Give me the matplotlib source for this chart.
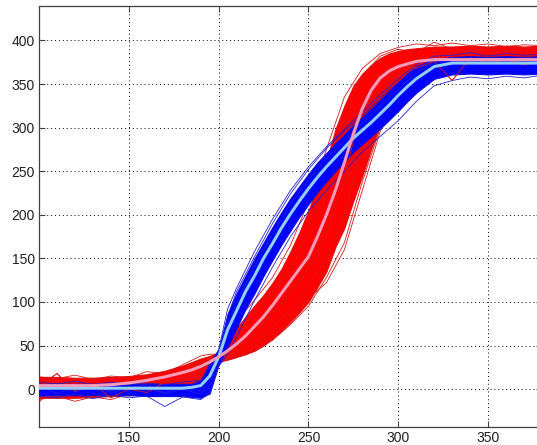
import matplotlib.pyplot as plt

# fine sampling for the band edges and the two mean curves
xf = [100, 110, 120, 130, 140, 150, 160, 170, 180, 185, 190, 195, 200, 205, 210, 215,
      220, 225, 230, 235, 240, 245, 250, 255, 260, 265, 270, 275, 280, 285, 290, 295,
      300, 305, 310, 320, 330, 340, 350, 360, 370, 380]

red_mean = [4, 4, 4, 4, 5, 7, 10, 14, 19, 22, 26, 31, 37, 44, 52, 61,
            72, 83, 96, 110, 124, 138, 152, 175, 200, 228, 260, 293, 322, 343, 357, 365,
            370, 373, 376, 378, 378, 378, 378, 378, 378, 378]
red_low = [-10, -10, -10, -9, -8, -7, -5, -3, 1, 4, 8, 18, 31, 34, 37, 40,
           44, 50, 58, 67, 77, 88, 100, 117, 135, 163, 185, 216, 245, 276, 304, 328,
           346, 357, 362, 366, 367, 367, 366, 367, 366, 367]
red_high = [14, 14, 13, 13, 14, 15, 17, 21, 27, 31, 35, 38, 42, 57, 70, 83,
            96, 108, 122, 138, 158, 180, 205, 232, 262, 298, 325, 348, 362, 372, 380, 385,
            388, 390, 391, 393, 393, 394, 393, 394, 393, 394]

blue_mean = [1, 1, 1, 1, 1, 1, 1, 1, 1, 2, 4, 15, 37, 68, 90, 112,
             130, 150, 167, 185, 201, 216, 230, 243, 255, 266, 277, 288, 297, 306, 316, 326,
             337, 347, 356, 370, 374, 374, 374, 374, 374, 374]
blue_low = [-7, -7, -7, -7, -7, -7, -8, -8, -8, -9, -10, -5, 28, 48, 70, 92,
            110, 130, 148, 166, 182, 198, 212, 226, 238, 250, 261, 272, 281, 290, 299, 309,
            319, 330, 340, 356, 361, 362, 361, 362, 361, 362]
blue_high = [6, 6, 6, 6, 6, 6, 6, 6, 6, 6, 10, 30, 46, 86, 110, 130,
             150, 168, 186, 203, 219, 233, 247, 260, 271, 282, 292, 303, 312, 322, 332, 342,
             352, 362, 370, 379, 381, 382, 381, 382, 381, 382]

# coarse sampling for a few stray single runs at the band edges
xc = [100, 110, 120, 130, 140, 150, 160, 170, 180, 190, 195, 200, 205, 210, 220, 230,
      240, 250, 260, 270, 280, 290, 300, 310, 320, 330, 340, 350, 360, 370, 380]

red_runs = [
    [14, 12, 16, 11, 15, 13, 20, 18, 28, 38, 40, 40, 60, 78, 102, 128,
     165, 215, 275, 335, 368, 385, 392, 396, 394, 397, 394, 396, 393, 395, 394],
    [-12, -8, -14, -9, -12, -6, -8, -2, 3, 10, 20, 32, 33, 36, 44, 56,
     74, 95, 128, 168, 238, 300, 342, 360, 364, 362, 366, 363, 365, 364, 366],
    [2, 18, -2, 6, -10, 0, -4, 8, 12, 22, 30, 36, 42, 48, 62, 88,
     112, 138, 180, 240, 330, 362, 372, 368, 376, 354, 380, 374, 378, 372, 376],
    [-15, 5, 9, -4, 12, 6, 14, 12, 20, 30, 35, 38, 50, 66, 88, 112,
     140, 185, 240, 310, 360, 382, 390, 386, 398, 390, 385, 392, 388, 392, 389],
    [6, -3, 4, 10, 2, 8, 2, 4, 10, 16, 24, 34, 38, 43, 52, 70,
     92, 118, 152, 200, 280, 335, 360, 370, 372, 376, 370, 376, 371, 377, 372],
    [9, 2, 11, -6, 4, 10, 6, 0, 6, 14, 22, 33, 34, 38, 46, 60,
     80, 104, 122, 160, 228, 296, 338, 358, 366, 369, 364, 369, 366, 370, 368],
]
blue_runs = [
    [8, 6, 9, 5, 8, 6, 7, 5, 8, 10, 25, 45, 92, 116, 158, 195,
     228, 255, 278, 298, 318, 338, 356, 372, 382, 383, 386, 382, 385, 383, 384],
    [-8, -10, -6, -11, -7, -10, -8, -20, -9, -12, -4, 26, 40, 60, 102, 140,
     175, 204, 228, 250, 272, 290, 308, 330, 348, 354, 358, 356, 359, 357, 360],
    [0, 4, -3, 2, -2, 3, 0, -4, 2, -2, 10, 36, 75, 100, 140, 178,
     212, 240, 264, 285, 305, 324, 344, 362, 376, 372, 380, 376, 379, 374, 378],
    [4, -5, 2, 6, -4, 1, 5, -6, 0, -6, 4, 34, 84, 112, 152, 190,
     224, 252, 276, 296, 314, 334, 352, 368, 378, 380, 376, 380, 377, 381, 378],
]

fig = plt.figure(figsize=(5.37, 4.45), dpi=100)
ax = fig.add_axes([39 / 537, 18 / 445, 503 / 537, 421 / 445])

ax.fill_between(xf, red_low, red_high, color='#ff0000', lw=0.8, edgecolor='#e01010', zorder=2)
for run in red_runs:
    ax.plot(xc, run, color='#d81818', lw=0.6, zorder=3)
ax.fill_between(xf, blue_low, blue_high, color='#0000ff', lw=0.8, edgecolor='#1010e0', zorder=4)
for run in blue_runs:
    ax.plot(xc, run, color='#2020d8', lw=0.6, zorder=5)
ax.plot(xc, red_runs[2], color='#d81818', lw=0.6, zorder=5)

ax.plot(xf, blue_mean, color='#8fd0f8', lw=2.2, zorder=6)
ax.plot(xf, red_mean, color='#f59ab8', lw=2.2, zorder=7)

ax.set_xlim(100, 380)
ax.set_ylim(-43.5, 439.5)
ax.set_xticks([150, 200, 250, 300, 350])
ax.set_yticks([0, 50, 100, 150, 200, 250, 300, 350, 400])
ax.grid(True, color='k', linestyle=(0, (1, 3)), lw=0.7)
ax.set_axisbelow(True)
ax.tick_params(direction='in', length=4, width=0.8, color='#404040',
               top=True, right=True, labelsize=10, pad=3)
for lab in ax.get_xticklabels() + ax.get_yticklabels():
    lab.set_fontfamily('Liberation Sans')
    lab.set_color('#202020')
for s in ax.spines.values():
    s.set_color('#404040')
    s.set_linewidth(0.9)

fig.savefig('out.png', dpi=100)
